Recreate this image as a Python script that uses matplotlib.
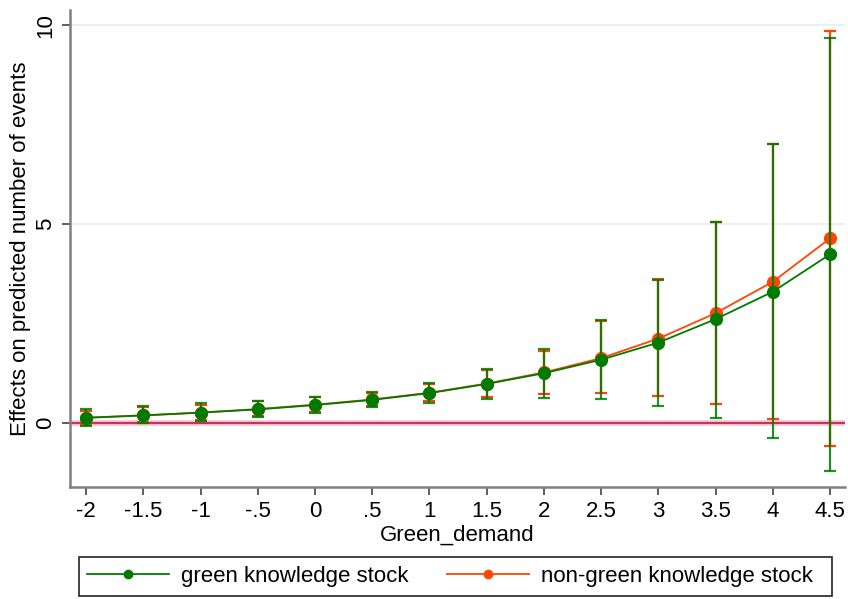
import matplotlib
matplotlib.use("Agg")
import matplotlib.pyplot as plt
from matplotlib.lines import Line2D
from matplotlib.patches import Rectangle

plt.rcParams['font.family'] = ['Liberation Sans', 'DejaVu Sans']

# Green_demand grid
green_demand = [-2, -1.5, -1, -0.5, 0, 0.5, 1, 1.5, 2, 2.5, 3, 3.5, 4, 4.5]
tick_labels = ["-2", "-1.5", "-1", "-.5", "0", ".5", "1", "1.5", "2", "2.5", "3", "3.5", "4", "4.5"]

# green knowledge stock: effect and confidence bounds
green_eff = [0.13, 0.19, 0.26, 0.34, 0.45, 0.58, 0.75, 0.98, 1.25, 1.59, 2.02, 2.61, 3.30, 4.24]
green_lo = [-0.08, -0.01, 0.04, 0.14, 0.24, 0.40, 0.51, 0.60, 0.63, 0.60, 0.43, 0.13, -0.37, -1.21]
green_hi = [0.34, 0.43, 0.49, 0.56, 0.66, 0.78, 1.00, 1.35, 1.85, 2.59, 3.60, 5.05, 7.00, 9.68]

# non-green knowledge stock: effect and confidence bounds
nongreen_eff = [0.13, 0.19, 0.26, 0.35, 0.46, 0.59, 0.76, 0.99, 1.27, 1.63, 2.12, 2.76, 3.55, 4.64]
nongreen_lo = [-0.05, 0.02, 0.07, 0.17, 0.27, 0.43, 0.55, 0.65, 0.74, 0.75, 0.68, 0.48, 0.09, -0.59]
nongreen_hi = [0.31, 0.40, 0.46, 0.54, 0.64, 0.76, 0.98, 1.33, 1.81, 2.57, 3.62, 5.06, 7.01, 9.86]

GREEN = "#007a00"
ORANGE = "#ff4500"
FS = 16

W, H = 848, 599
fig = plt.figure(figsize=(W / 100, H / 100), dpi=100)
ax = fig.add_axes([70 / W, 1 - 487 / H, (845 - 70) / W, (487 - 10) / H])

# light horizontal grid
for yv in (5, 10):
    ax.axhline(yv, color="#e6eff0", lw=1.3, zorder=0)

# reference line at zero
ax.axhline(0, color="#f3c3cf", lw=4.0, zorder=1)
ax.axhline(0, color="#c4345c", lw=1.5, zorder=1)


def draw_series(eff, lo, hi, color, alpha, z):
    yerr = [[e - l for e, l in zip(eff, lo)], [h - e for e, h in zip(eff, hi)]]
    ax.errorbar(green_demand, eff, yerr=yerr, fmt="none", ecolor=color,
                elinewidth=1.6, capsize=4.2, capthick=1.6, alpha=alpha, zorder=z)
    ax.plot(green_demand, eff, color=color, lw=1.3, marker="o", markersize=9.5,
            markeredgewidth=0, zorder=z + 1)


draw_series(nongreen_eff, nongreen_lo, nongreen_hi, ORANGE, 1.0, 2)
draw_series(green_eff, green_lo, green_hi, GREEN, 0.85, 4)

ax.set_xlim(-2.14, 4.63)
ax.set_ylim(-1.61, 10.38)
ax.set_xticks(green_demand)
ax.set_xticklabels(tick_labels, fontsize=FS)
ax.set_yticks([0, 5, 10])
ax.set_yticklabels(["0", "5", "10"], fontsize=FS, rotation=90, va="center")

for side in ("top", "right"):
    ax.spines[side].set_visible(False)
for side in ("left", "bottom"):
    ax.spines[side].set_color("#808080")
    ax.spines[side].set_linewidth(1.8)
ax.tick_params(axis="both", direction="out", length=6, width=1.1, color="#333333", pad=4)

ax.set_xlabel("Green_demand", fontsize=FS, labelpad=2)
ax.set_ylabel("Effects on predicted number of events", fontsize=FS, labelpad=3)

# legend box below the plot
fig.patches.append(Rectangle((79 / W, 1 - 596 / H), (832 - 79) / W, 39 / H,
                             transform=fig.transFigure, fill=False,
                             edgecolor="#222222", lw=1.2))
handles = [
    Line2D([], [], color=GREEN, lw=1.3, marker="o", markersize=7, markeredgewidth=0),
    Line2D([], [], color=ORANGE, lw=1.3, marker="o", markersize=7, markeredgewidth=0),
]
fig.legend(handles, ["green knowledge stock", "non-green knowledge stock"],
           loc="center left", ncol=2,
           bbox_to_anchor=(87 / W, 1 - 576.5 / H),
           fontsize=FS, handlelength=3.7, handletextpad=0.55, columnspacing=1.7,
           frameon=False, borderaxespad=0, borderpad=0)

fig.savefig("out.png", dpi=100, facecolor="white")
